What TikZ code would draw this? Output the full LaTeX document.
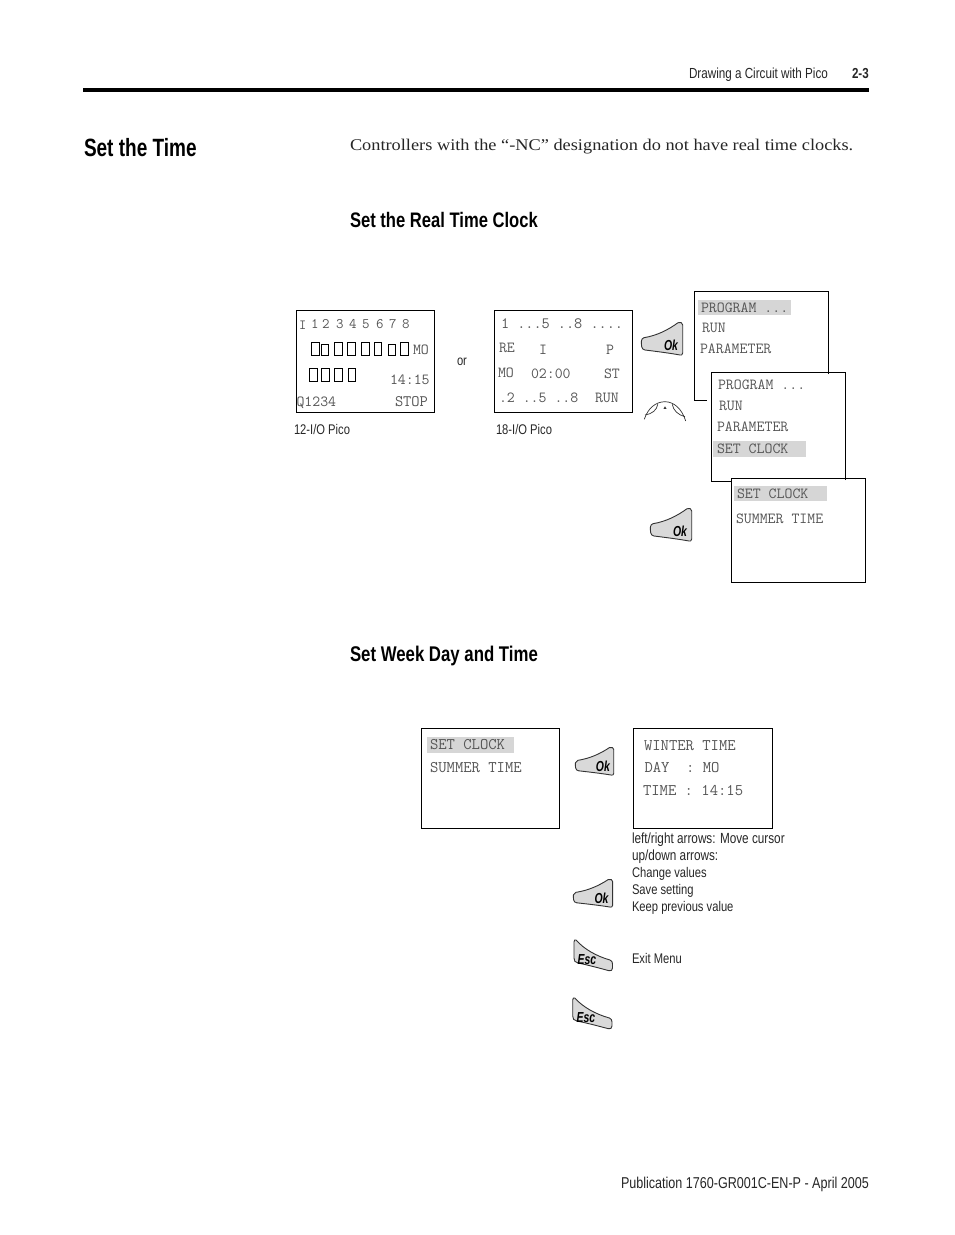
\documentclass[tikz,border=0pt]{standalone}
\usepackage{fontspec}
\setmainfont{Liberation Serif}
\newfontfamily\narrowf[FakeStretch=0.80]{Liberation Sans}
\newfontfamily\titlef[FakeStretch=0.76]{Liberation Sans}
\newfontfamily\headf[FakeStretch=0.79]{Liberation Sans}
\newfontfamily\keyf[FakeStretch=0.72]{Liberation Sans}
\newfontfamily\bodyf[FakeStretch=1.12]{Liberation Serif}
\definecolor{lcdtext}{HTML}{555555}
\definecolor{hilite}{HTML}{D6D6D6}
\definecolor{keyfill}{HTML}{D9D9D9}
\tikzset{
  txt/.style={inner sep=0pt,outer sep=0pt,anchor=base west},
  lcd/.style={txt,text=lcdtext,font=\ttfamily\fontsize{15.4}{15.4}\selectfont},
  lcdb/.style={txt,text=lcdtext,font=\ttfamily\fontsize{16.2}{16.2}\selectfont},
  lbl/.style={txt,text=black!85,font=\narrowf\fontsize{14}{14}\selectfont},
  lblw/.style={txt,text=black!85,font=\narrowf\fontsize{14.7}{14.7}\selectfont},
  frame/.style={draw=black,line width=1pt},
  mark box/.style={draw=black,line width=0.9pt},
  hl/.style={fill=hilite,draw=none},
  key/.style={draw=black!80,fill=keyfill,line width=0.9pt,line join=round},
  keytext/.style={inner sep=0pt,font=\keyf\bfseries\itshape\fontsize{14.5}{14.5}\selectfont},
  soft/.style={draw=black!80,line width=0.7pt}
}
\newcommand{\okkey}[5]{%
  \begin{scope}[shift={(#1,#2)},xscale=#3,yscale=#4]
    \path[key] (0.7,24.7) .. controls (0,20) and (0,16.5) .. (3,15.7)
      .. controls (16,13.5) and (27,8) .. (37,0.7)
      .. controls (39.5,-0.5) and (41.7,1) .. (41.7,3)
      -- (41.7,31) .. controls (41.7,33) and (40,33.5) .. (39,33)
      .. controls (28,31) and (16,29.5) .. (4,28)
      .. controls (2,27.7) and (1,26.5) .. (0.7,24.7) -- cycle;
    \node[keytext] (#5) at (30,23) {Ok};
  \end{scope}}
\newcommand{\esckey}[5]{%
  \begin{scope}[shift={(#1,#2)},xscale=#3,yscale=#4]
    \path[key] (2,0) .. controls (10,9) and (22,16) .. (36,20)
      .. controls (38,21) and (38.5,22) .. (38.5,24)
      -- (38.5,28) .. controls (38.5,30.5) and (37,31) .. (35,30.7)
      .. controls (25,28) and (14,25) .. (4,23)
      .. controls (1,22.3) and (0,21) .. (0,18)
      -- (0,2) .. controls (0,0) and (1,-0.5) .. (2,0) -- cycle;
    \node[keytext] (#5) at (13,20) {Esc};
  \end{scope}}
\begin{document}
\begin{tikzpicture}[x=1pt,y=-1pt]
\useasboundingbox (0,0) rectangle (954,1235);
% header
\node[txt,font=\narrowf\fontsize{14.6}{14.6}\selectfont,text=black!85] (hdr) at (689,78) {Drawing a Circuit with Pico};
\node[txt,font=\narrowf\bfseries\fontsize{14.5}{14.5}\selectfont,text=black!85] (pg) at (852,78) {2-3};
\fill[black] (83,88) rectangle (869,92);
\node[txt,font=\titlef\bfseries\fontsize{25}{25}\selectfont] (title) at (84,156) {Set the Time};
\node[txt,font=\bodyf\fontsize{16.36}{16.36}\selectfont,text=black!85] (intro) at (350,150) {Controllers with the “-NC” designation do not have real time clocks.};
\node[txt,font=\headf\bfseries\fontsize{21}{21}\selectfont] (h1) at (350,227) {Set the Real Time Clock};
\node[txt,font=\headf\bfseries\fontsize{21.25}{21.25}\selectfont] (h2) at (350,661) {Set Week Day and Time};
\node[txt,font=\narrowf\fontsize{15.7}{15.7}\selectfont,text=black!85] (foot) at (621,1188) {Publication 1760-GR001C-EN-P - April 2005};
% 12-I/O
\draw[frame] (296.5,310.5) rectangle (434.5,412.5);
\node[lcd,font=\ttfamily\fontsize{14}{14}\selectfont] (a0) at (299,329) {I};
\foreach \d/\x in {1/311,2/322,3/336,4/349,5/362,6/376,7/389,8/402}
  \node[lcd,font=\ttfamily\fontsize{14.5}{14.5}\selectfont] (dg\d) at (\x,328) {\d};
\node[lcd,font=\ttfamily\fontsize{15.4}{15.4}\selectfont] (a2) at (413,354) {MO};
\node[lcd] (a3) at (390,384) {14:15};
\node[lcd] (a4) at (296.5,406) {Q1234};
\node[lcd,font=\ttfamily\fontsize{16}{16}\selectfont] (a5) at (395,406) {STOP};
\foreach \x/\w/\t in {311.5/7.5/342.7,321/7.5/344.5,334.5/8/342.7,347.5/8/342.7,361/8/342.7,374.5/7/342.7,388/7/344.5,400.5/8/342.7}
  \draw[mark box] (\x,\t) rectangle (\x+\w,355.5);
\foreach \x/\w in {309.5/8,321/8,334.5/8,348.5/7}
  \draw[mark box] (\x,368.5) rectangle (\x+\w,381.5);
% 18-I/O
\draw[frame] (494.5,310.5) rectangle (632.5,412.5);
\node[lcd,font=\ttfamily\fontsize{15.8}{15.8}\selectfont] (b1) at (501,328) {1 ...5 ..8 ....};
\node[lcd] (b2) at (499,352) {RE};
\node[lcd] (b3) at (539,354) {I};
\node[lcd] (b4) at (606,354) {P};
\node[lcd] (b5) at (498,377) {MO};
\node[lcd] (b6) at (531,378) {02:00};
\node[lcd] (b7) at (604,378) {ST};
\node[lcd] (b8) at (499,402) {.2 ..5 ..8};
\node[lcd] (b9) at (595,402) {RUN};
\node[lbl] (or) at (457,365) {or};
\node[lbl] (l12) at (294,434) {12-I/O Pico};
\node[lbl] (l18) at (496,434) {18-I/O Pico};
% menu 1
\draw[frame] (828.5,374) -- (828.5,291.5) -- (694.5,291.5) -- (694.5,400.5) -- (707,400.5);
\fill[hl] (698,300) rectangle (791,315);
\node[lcd] (c1) at (701,312) {PROGRAM ...};
\node[lcd] (c2) at (702,332) {RUN};
\node[lcd] (c3) at (700,353) {PARAMETER};
% menu 2
\draw[frame] (845.5,480) -- (845.5,372.5) -- (711.5,372.5) -- (711.5,481) -- (731,481);
\fill[hl] (713,441) rectangle (806,457);
\node[lcd] (d1) at (718,389) {PROGRAM ...};
\node[lcd] (d2) at (719,410) {RUN};
\node[lcd] (d3) at (717,431) {PARAMETER};
\node[lcd] (d4) at (717,453) {SET CLOCK};
% menu 3
\draw[frame] (731.5,478.5) rectangle (865.5,582.5);
\fill[hl] (734,486) rectangle (827,501);
\node[lcd] (e1) at (737,498) {SET CLOCK};
\node[lcd] (e2) at (736,523) {SUMMER TIME};
% keys upper
\okkey{641}{322}{1}{1}{ok1}
\okkey{650}{508}{1}{1}{ok2}
\draw[soft] (644.3,419.3) .. controls (648,408) and (656,401.7) .. (665,401.7) .. controls (674,401.7) and (682,409) .. (685.7,421);
\draw[soft] (657.7,404.3) .. controls (657,410) and (652,414) .. (645,415);
\draw[soft] (672.3,404.3) .. controls (673,410) and (678,415) .. (685,416.7);
\fill[black!80] (665,406.3) -- (666.5,408.8) -- (663.5,408.8) -- cycle;
% lower screens
\draw[frame] (421,728.5) rectangle (559.5,828.5);
\draw[line width=1pt] (421.5,728.5) -- (421.5,828.5);
\fill[hl] (427,737) rectangle (514,753);
\node[lcdb] (f1) at (430,749) {SET CLOCK};
\node[lcdb] (f2) at (430,772) {SUMMER TIME};
\draw[frame] (633.5,728.5) rectangle (772.5,828.5);
\node[lcdb] (g1) at (644,750) {WINTER TIME};
\node[lcdb] (g2) at (644.5,772) {DAY\ \ : MO};
\node[lcdb] (g3) at (643,795) {TIME : 14:15};
\okkey{575}{747}{0.93}{0.85}{ok3}
\okkey{573}{879}{0.95}{0.85}{ok4}
\esckey{574}{940}{1}{1}{esc1}
\esckey{572.7}{998}{1.02}{1}{esc2}
\node[lblw] (h1a) at (632,843) {left/right arrows: Move cursor};
\node[lblw] (h2a) at (632,860) {up/down arrows:};
\node[lbl] (h3a) at (632,877) {Change values};
\node[lbl] (h4a) at (632,894) {Save setting};
\node[lbl] (h5a) at (632,911) {Keep previous value};
\node[lbl] (h6a) at (632,963) {Exit Menu};
\end{tikzpicture}
\end{document}
